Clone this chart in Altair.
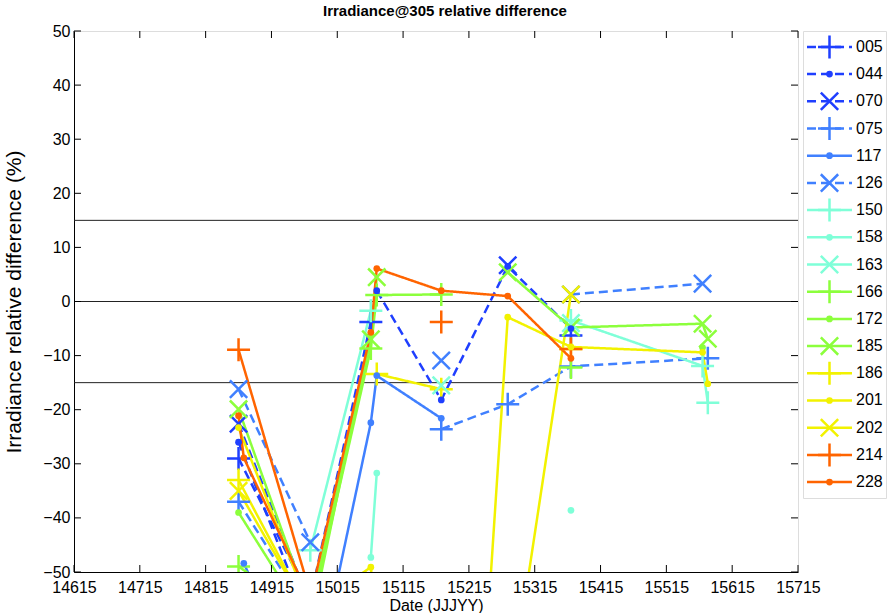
import math
import altair as alt
import pandas as pd

# ---------------- data ----------------
DATES = [14865, 14873, 14974, 15066, 15075, 15173, 15274, 15370, 15570, 15578]
SERIES = ["005", "044", "070", "075", "117", "126", "150", "158", "163",
          "166", "172", "185", "186", "201", "202", "214", "228"]
N = None            # no measurement on that date
G = float("nan")    # gap: the line is broken here
S005 = [-29.0, N, -55.0, -3.8, G, N, N, -6.3, N, N]
S044 = [-26.0, N, -60.0, G, 2.0, -18.2, 6.5, -5.0, N, N]
S070 = [-22.6, N, -56.0, G, N, N, 6.7, N, N, N]
S075 = [-37.0, N, -58.0, G, N, -23.6, -19.0, -12.0, N, -10.5]
S117 = [N, -48.4, -75.0, -22.4, -13.7, -21.6, N, N, N, N]
S126 = [-16.2, N, -44.5, G, N, -10.9, G, 1.3, 3.3, N]
S150 = [N, N, -46.0, -1.7, G, N, N, -3.5, -11.9, -18.7]
S158 = [N, N, N, -47.3, -31.7, G, N, -38.6, N, N]
S163 = [N, N, N, N, N, -15.5, G, -4.0, N, N]
S166 = [-49.0, N, -58.0, -8.7, 1.2, 1.3, G, -12.2, N, N]
S172 = [-39.0, N, -60.0, -6.0, G, N, N, N, -8.5, N]
S185 = [-19.9, N, -57.0, -7.0, 4.5, G, 5.4, -4.8, -4.1, -6.9]
S186 = [-33.0, N, -58.0, G, -13.4, -16.2, G, -8.8, N, N]
S201 = [-23.3, N, -57.0, -49.1, N, -190.0, -2.9, -8.4, -9.4, -15.2]
S202 = [-35.0, N, -58.0, G, N, N, -76.0, 1.3, N, N]
S214 = [-8.9, N, -54.0, G, N, -3.8, G, -8.8, N, N]
S228 = [-21.1, -28.9, -55.0, -5.7, 6.1, 2.0, 1.0, -10.5, N, N]
VALUES = [S005, S044, S070, S075, S117, S126, S150, S158, S163,
          S166, S172, S185, S186, S201, S202, S214, S228]

COLORS = (["#1f3fff"] * 3 + ["#4080ff"] * 3 + ["#7fffd8"] * 3 +
          ["#8cff3c"] * 3 + ["#f2f200"] * 3 + ["#ff6400"] * 2)
MARKERS = (["plus", "dot", "x"] * 6)[:17]
DASHED = [True, True, True, True, False, True] + [False] * 11

HLINES = [15, 0, -15]
XTICKS = list(range(14615, 15716, 100))
YTICKS = list(range(-50, 51, 10))

# ---------------- tables ----------------
rows = []
for name, vals, mk in zip(SERIES, VALUES, MARKERS):
    seg = 0
    for d, v in zip(DATES, vals):
        if v is None:
            continue
        if math.isnan(v):
            seg += 1
            continue
        rows.append({"series": name, "date": d, "value": v, "marker": mk,
                     "key": f"{name}_{seg}"})
df = pd.DataFrame(rows)
leg = pd.DataFrame({"series": SERIES, "marker": MARKERS})

W, H = 724, 541
FONT = "Liberation Sans"
PLUS = "M-1,0L1,0M0,-1L0,1"
XSHAPE = "M-1,-1L1,1M-1,1L1,-1"

color_scale = alt.Scale(domain=SERIES, range=COLORS)
dash_scale = alt.Scale(domain=SERIES, range=[[9, 5] if d else [1, 0] for d in DASHED])
xscale = alt.Scale(domain=[14615, 15715], nice=False, zero=False)
yscale = alt.Scale(domain=[-50, 50], nice=False, zero=False)

xaxis = alt.Axis(values=XTICKS, format="d", tickSize=0, grid=False, labelFontSize=16,
                 titleFontSize=16, titleFontWeight="normal", labelPadding=7,
                 titlePadding=2, domainColor="black", labelColor="black",
                 titleColor="black", labelFont=FONT, titleFont=FONT, labelFlush=False)
yaxis = alt.Axis(values=YTICKS, format="d", tickSize=0, grid=False, labelFontSize=16,
                 titleFontSize=21, titleFontWeight="normal", labelPadding=4,
                 titlePadding=18, domainColor="black", labelColor="black",
                 titleColor="black", labelFont=FONT, titleFont=FONT)

XT = "Date (JJJYY)"
YT = "Irradiance relative difference (%)"
X = alt.X("date:Q", scale=xscale, axis=xaxis, title=XT)
Y = alt.Y("value:Q", scale=yscale, axis=yaxis, title=YT)
COL = alt.Color("series:N", scale=color_scale, legend=None)
DASH = alt.StrokeDash("series:N", scale=dash_scale, legend=None)

base = alt.Chart(df)

hl = alt.Chart(pd.DataFrame({"h": HLINES})).mark_rule(color="#222222", strokeWidth=1).encode(
    y=alt.Y("h:Q", scale=yscale, axis=yaxis, title=YT))

lines = base.mark_line(strokeWidth=2.5, clip=True).encode(
    x=X, y=Y, color=COL, strokeDash=DASH, detail="key:N", order="date:Q")

pts_plus = base.transform_filter(alt.datum.marker == "plus").mark_point(
    shape=PLUS, filled=False, size=529, strokeWidth=2.5, opacity=1, clip=True).encode(
    x=X, y=Y, color=COL)
pts_x = base.transform_filter(alt.datum.marker == "x").mark_point(
    shape=XSHAPE, filled=False, size=300, strokeWidth=2.5, opacity=1, clip=True).encode(
    x=X, y=Y, color=COL)
pts_dot = base.transform_filter(alt.datum.marker == "dot").mark_point(
    shape="circle", filled=True, size=45, opacity=1, clip=True).encode(
    x=X, y=Y, color=COL)

xt = pd.DataFrame({"t": XTICKS})
yt = pd.DataFrame({"t": YTICKS})
tick_top = alt.Chart(xt).mark_rule(color="black").encode(
    x=alt.X("t:Q", scale=xscale, axis=xaxis, title=XT), y=alt.value(0), y2=alt.value(7))
tick_bot = alt.Chart(xt).mark_rule(color="black").encode(
    x=alt.X("t:Q", scale=xscale, axis=xaxis, title=XT), y=alt.value(H), y2=alt.value(H - 7))
tick_left = alt.Chart(yt).mark_rule(color="black").encode(
    y=alt.Y("t:Q", scale=yscale, axis=yaxis, title=YT), x=alt.value(0), x2=alt.value(7))
tick_right = alt.Chart(yt).mark_rule(color="black").encode(
    y=alt.Y("t:Q", scale=yscale, axis=yaxis, title=YT), x=alt.value(W), x2=alt.value(W - 7))

main = alt.layer(hl, lines, pts_plus, pts_x, pts_dot,
                 tick_top, tick_bot, tick_left, tick_right).properties(width=W, height=H)

# ---------------- legend panel ----------------
LY = alt.Y("series:N", scale=alt.Scale(domain=SERIES, type="point", padding=0.585), axis=None)
lbase = alt.Chart(leg)
l_rule = lbase.mark_rule(strokeWidth=2.5).encode(
    y=LY, x=alt.value(4), x2=alt.value(49), color=COL, strokeDash=DASH)
l_plus = lbase.transform_filter(alt.datum.marker == "plus").mark_point(
    shape=PLUS, filled=False, size=529, strokeWidth=2.5, opacity=1).encode(
    y=LY, x=alt.value(26.5), color=COL)
l_x = lbase.transform_filter(alt.datum.marker == "x").mark_point(
    shape=XSHAPE, filled=False, size=300, strokeWidth=2.5, opacity=1).encode(
    y=LY, x=alt.value(26.5), color=COL)
l_dot = lbase.transform_filter(alt.datum.marker == "dot").mark_point(
    shape="circle", filled=True, size=45, opacity=1).encode(
    y=LY, x=alt.value(26.5), color=COL)
l_text = lbase.mark_text(align="left", baseline="middle", fontSize=16, font=FONT,
                         color="black").encode(y=LY, x=alt.value(53), text="series:N")
legend_panel = alt.layer(l_rule, l_plus, l_x, l_dot, l_text).properties(width=83, height=467)

chart = alt.hconcat(main, legend_panel, spacing=5, bounds="flush").properties(
    title=alt.TitleParams("Irradiance@305 relative difference", font=FONT, fontSize=15,
                          fontWeight="bold", anchor="middle", offset=4, color="black"),
    padding={"left": 3, "top": 3, "right": 0, "bottom": 0},
).configure_view(stroke="black", strokeWidth=1, fill="white").configure(font=FONT)

chart.save("out.html", embed_options={"renderer": "svg", "actions": False})
